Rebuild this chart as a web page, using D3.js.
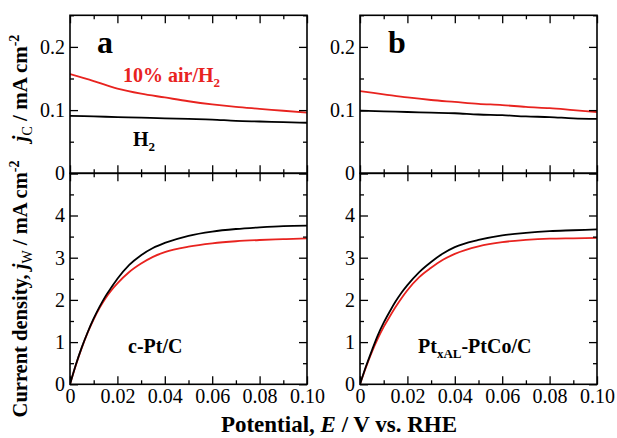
<!DOCTYPE html>
<html>
<head>
<meta charset="utf-8">
<script src="https://cdn.jsdelivr.net/npm/d3@7"></script>
<style>
  body { margin: 0; background: #fff; }
  svg text { font-family: "Liberation Serif", "Tinos", "DejaVu Serif", "Noto Serif", serif; }
</style>
</head>
<body>
<div id="chart"></div>
<script>
// potential grid (V vs RHE)
var potTop = [0, 0.01, 0.02, 0.03, 0.04, 0.05, 0.06, 0.07, 0.08, 0.09, 0.1];
var potBot = [0, 0.0025, 0.005, 0.0075, 0.01, 0.0125, 0.015, 0.0175, 0.02, 0.025, 0.03, 0.035, 0.04, 0.05, 0.06, 0.07, 0.08, 0.09, 0.1];

// jC, panel a (c-Pt/C)
var jcAirA = [0.157, 0.146, 0.134, 0.126, 0.120, 0.114, 0.109, 0.105, 0.102, 0.099, 0.096];
var jcH2A  = [0.091, 0.090, 0.089, 0.088, 0.087, 0.086, 0.085, 0.083, 0.082, 0.081, 0.080];
// jC, panel b (PtxAL-PtCo/C)
var jcAirB = [0.130, 0.125, 0.120, 0.116, 0.113, 0.110, 0.108, 0.105, 0.103, 0.100, 0.097];
var jcH2B  = [0.099, 0.098, 0.097, 0.096, 0.095, 0.093, 0.092, 0.090, 0.089, 0.087, 0.086];

// jW, panel a
var jwH2A  = [0, 0.47, 0.88, 1.24, 1.56, 1.84, 2.09, 2.30, 2.50, 2.83, 3.06, 3.23, 3.35, 3.52, 3.62, 3.68, 3.72, 3.75, 3.76];
var jwAirA = [0, 0.46, 0.87, 1.23, 1.54, 1.81, 2.04, 2.23, 2.39, 2.66, 2.86, 3.02, 3.13, 3.26, 3.34, 3.39, 3.42, 3.44, 3.46];
// jW, panel b
var jwH2B  = [0, 0.42, 0.80, 1.16, 1.46, 1.72, 1.96, 2.17, 2.35, 2.66, 2.90, 3.10, 3.25, 3.42, 3.53, 3.59, 3.63, 3.65, 3.67];
var jwAirB = [0, 0.40, 0.76, 1.08, 1.36, 1.60, 1.83, 2.04, 2.23, 2.54, 2.76, 2.95, 3.09, 3.27, 3.37, 3.42, 3.45, 3.46, 3.47];

// tick values
var xMajor = [0, 0.02, 0.04, 0.06, 0.08, 0.1];
var xMinor = [0.01, 0.03, 0.05, 0.07, 0.09];
var topMajor = [0, 0.1, 0.2];
var topMinor = [0.05, 0.15, 0.25];
var botMajor = [0, 1, 2, 3, 4, 5];
var botMinor = [0.5, 1.5, 2.5, 3.5, 4.5];

var red = "#e8231f";
var serif = "'Liberation Serif', 'Tinos', 'DejaVu Serif', 'Noto Serif', serif";

var svgWidth = 617;
var svgHeight = 438;

var svg = d3.select("#chart")
  .append("svg")
  .attr("width", svgWidth)
  .attr("height", svgHeight)
  .attr("font-family", serif);

// panel geometry
var topY0 = 15.3, midY = 173.3, botY1 = 384.3;

var yTop = d3.scaleLinear().domain([0, 0.25]).range([midY, topY0]);
var yBot = d3.scaleLinear().domain([0, 5]).range([botY1, midY]);

var xFmt = function(d) { return d === 0 ? "0" : d3.format(".2f")(d); };
var topFmt = function(d) { return d === 0 ? "0" : d3.format(".1f")(d); };
var botFmt = function(d) { return d === 5 ? "" : d3.format("d")(d); };

function addTicks(g, axisFn, scale, major, minor, fmt, transform) {
  var a = g.append("g").attr("transform", transform)
    .call(axisFn(scale).tickValues(major).tickSize(-8).tickPadding(5).tickFormat(fmt || ""));
  a.select(".domain").remove();
  var b = g.append("g").attr("transform", transform)
    .call(axisFn(scale).tickValues(minor).tickSize(-4).tickFormat(""));
  b.select(".domain").remove();
  g.selectAll("g").attr("font-family", null);
  g.selectAll(".tick line").attr("stroke", "#000").attr("stroke-width", 1.3);
  return a;
}

function drawPanel(x, yScale, y0, y1, major, minor, yFmt, showX, series) {
  var g = svg.append("g");
  var left = x.range()[0], right = x.range()[1];

  // clip
  var id = "clip" + Math.round(left) + Math.round(y0);
  svg.append("clipPath").attr("id", id)
    .append("rect").attr("x", left).attr("y", y0)
    .attr("width", right - left).attr("height", y1 - y0);

  var line = d3.line()
    .x(d => x(d[0]))
    .y(d => yScale(d[1]))
    .curve(d3.curveMonotoneX);

  series.forEach(function(s) {
    g.append("path")
      .datum(d3.zip(s.x, s.y))
      .attr("clip-path", "url(#" + id + ")")
      .attr("fill", "none")
      .attr("stroke", s.color)
      .attr("stroke-width", 1.8)
      .attr("d", line);
  });

  // ticks on all four sides, pointing in
  addTicks(g, d3.axisBottom, x, xMajor, xMinor, showX ? xFmt : "", `translate(0,${y1})`);
  addTicks(g, d3.axisTop, x, xMajor, xMinor, "", `translate(0,${y0})`);
  addTicks(g, d3.axisLeft, yScale, major, minor, yFmt, `translate(${left},0)`);
  addTicks(g, d3.axisRight, yScale, major, minor, "", `translate(${right},0)`);

  g.selectAll(".tick text")
    .attr("fill", "#000")
    .attr("font-family", serif)
    .attr("font-size", 20);

  // frame
  g.append("rect")
    .attr("x", left).attr("y", y0)
    .attr("width", right - left).attr("height", y1 - y0)
    .attr("fill", "none").attr("stroke", "#000").attr("stroke-width", 1.6);
}

var xA = d3.scaleLinear().domain([0, 0.1]).range([70, 307]);
var xB = d3.scaleLinear().domain([0, 0.1]).range([360, 597]);

drawPanel(xA, yTop, topY0, midY, topMajor, topMinor, topFmt, false,
  [{x: potTop, y: jcH2A, color: "#000"}, {x: potTop, y: jcAirA, color: red}]);
drawPanel(xB, yTop, topY0, midY, topMajor, topMinor, topFmt, false,
  [{x: potTop, y: jcH2B, color: "#000"}, {x: potTop, y: jcAirB, color: red}]);
drawPanel(xA, yBot, midY, botY1, botMajor, botMinor, botFmt, true,
  [{x: potBot, y: jwAirA, color: red}, {x: potBot, y: jwH2A, color: "#000"}]);
drawPanel(xB, yBot, midY, botY1, botMajor, botMinor, botFmt, true,
  [{x: potBot, y: jwAirB, color: red}, {x: potBot, y: jwH2B, color: "#000"}]);

// panel letters
svg.append("text").attr("x", 97).attr("y", 53)
  .style("font-size", "32px").style("font-weight", "bold").text("a");
svg.append("text").attr("x", 388).attr("y", 53)
  .style("font-size", "32px").style("font-weight", "bold").text("b");

// gas labels
var airLab = svg.append("text").attr("x", 123).attr("y", 82)
  .attr("fill", red).style("font-size", "20px").style("font-weight", "bold");
airLab.append("tspan").text("10% air/H");
airLab.append("tspan").attr("dy", 5).style("font-size", "13px").text("2");

var h2Lab = svg.append("text").attr("x", 133).attr("y", 146)
  .style("font-size", "20px").style("font-weight", "bold");
h2Lab.append("tspan").text("H");
h2Lab.append("tspan").attr("dy", 5).style("font-size", "13px").text("2");

// catalyst labels
svg.append("text").attr("x", 128).attr("y", 353)
  .style("font-size", "20px").style("font-weight", "bold").text("c-Pt/C");

var ptLab = svg.append("text").attr("x", 418).attr("y", 353)
  .style("font-size", "20px").style("font-weight", "bold");
ptLab.append("tspan").text("Pt");
ptLab.append("tspan").attr("dy", 5).style("font-size", "13px").text("xAL");
ptLab.append("tspan").attr("dy", -5).text("-PtCo/C");

// x-axis title
var xt = svg.append("text")
  .attr("x", 339).attr("y", 432)
  .style("text-anchor", "middle")
  .style("font-size", "23px").style("font-weight", "bold");
xt.append("tspan").text("Potential, ");
xt.append("tspan").style("font-style", "italic").text("E");
xt.append("tspan").text(" / V vs. RHE");

// y-axis titles
function yTitle(cy, size, pre, sub) {
  var t = svg.append("text")
    .attr("transform", `translate(27,${cy}) rotate(-90)`)
    .style("text-anchor", "middle")
    .style("font-size", size + "px").style("font-weight", "bold");
  if (pre) t.append("tspan").text(pre);
  t.append("tspan").style("font-style", "italic").text("j");
  t.append("tspan").attr("dy", 5).style("font-size", "14px").style("font-weight", "normal").text(sub);
  t.append("tspan").attr("dy", -5).text(" / mA cm");
  t.append("tspan").attr("dy", -8).style("font-size", "14px").text("-2");
}
yTitle(88, 21, "", "C");
yTitle(289, 20.5, "Current density, ", "W");
</script>
</body>
</html>
